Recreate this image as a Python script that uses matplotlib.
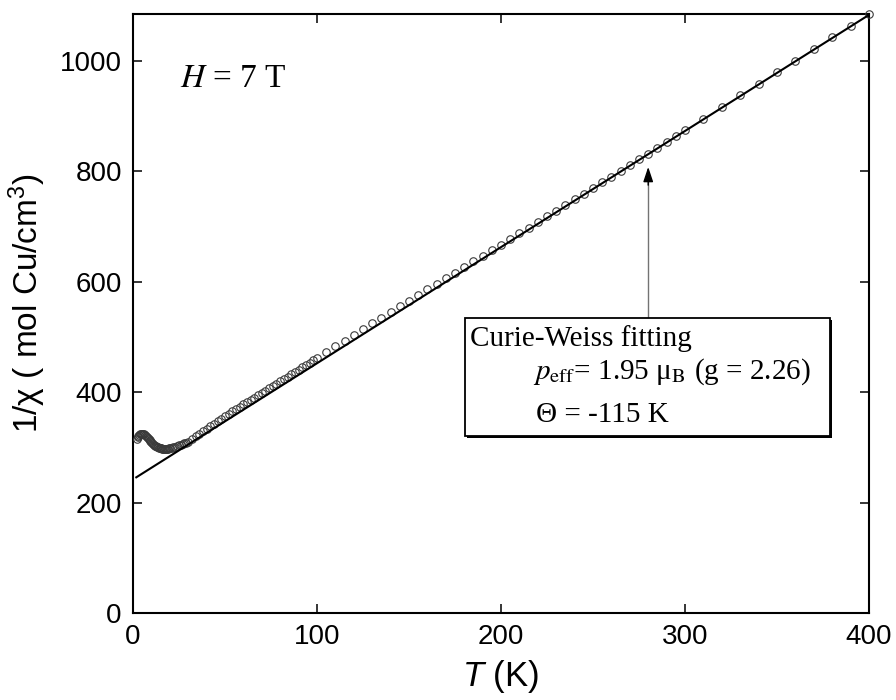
import numpy as np
import matplotlib
matplotlib.use('Agg')
import matplotlib.pyplot as plt
import matplotlib.patheffects as pe
from matplotlib.patches import Rectangle

# measured inverse susceptibility, H = 7 T
temp_low = [2.0, 2.5, 3.0, 3.5, 4.0, 4.5, 5.0, 5.5, 6.0, 6.5, 7.0, 7.5, 8.0, 8.5,
            9.0, 9.5, 10.0, 10.5, 11.0, 11.5, 12.0, 12.5, 13.0, 13.5, 14.0, 14.5,
            15.0, 15.5, 16.0, 16.5, 17.0, 17.5, 18.0, 18.5, 19.0, 19.5, 20.0,
            21, 22, 23, 24, 25, 26, 27, 28, 29]
inv_chi_low = [316.0, 319.0, 321.5, 323.2, 324.5, 325.0, 325.0, 324.5, 323.5, 322.2,
               320.5, 318.8, 317.0, 315.0, 313.0, 311.2, 309.5, 307.7, 306.0, 304.4,
               303.0, 301.9, 301.0, 300.2, 299.5, 299.0, 298.5, 298.1, 297.8, 297.6,
               297.4, 297.3, 297.4, 297.6, 297.8, 298.1, 298.4,
               299.2, 300.1, 301.1, 302.2, 303.4, 304.7, 306.0, 307.3, 308.6]

temp_mid = [30, 32, 34, 36, 38, 40, 42, 44, 46, 48, 50, 52, 54, 56, 58, 60, 62, 64,
            66, 68, 70, 72, 74, 76, 78, 80, 82, 84, 86, 88, 90, 92, 94, 96, 98, 100]
inv_chi_mid = [310.0, 315.0, 319.9, 324.7, 329.4, 334.0, 338.6, 343.2, 347.7, 352.1,
               356.5, 360.8, 365.1, 369.3, 373.5, 377.7, 381.9, 386.1, 390.3, 394.5,
               398.7, 402.9, 407.1, 411.3, 415.5, 419.8, 424.0, 428.2, 432.4, 436.6,
               440.8, 445.0, 449.2, 453.4, 457.6, 461.8]

temp_high = [105, 110, 115, 120, 125, 130, 135, 140, 145, 150, 155, 160, 165, 170,
             175, 180, 185, 190, 195, 200, 205, 210, 215, 220, 225, 230, 235, 240,
             245, 250, 255, 260, 265, 270, 275, 280, 285, 290, 295, 300,
             310, 320, 330, 340, 350, 360, 370, 380, 390, 400]
inv_chi_high = [472.5, 483.0, 493.5, 504.1, 514.4, 524.7, 535.1, 545.3, 555.5, 565.8,
                575.9, 586.1, 596.3, 606.4, 616.5, 626.8, 636.9, 647.0, 657.2, 667.4,
                677.6, 687.8, 698.0, 708.2, 718.4, 728.7, 738.9, 749.2, 759.6, 769.9,
                780.2, 790.6, 801.0, 811.4, 821.9, 832.3, 842.7, 853.3, 863.7, 874.2,
                895.2, 916.4, 937.5, 958.4, 979.6, 1000.7, 1021.6, 1042.8, 1063.9, 1084.9]

# Curie-Weiss parameters
p_eff = 1.95
theta = -115
fit_range = [1.8, 400]

plt.rcParams['font.family'] = ['Liberation Sans', 'DejaVu Sans']
plt.rcParams['mathtext.fontset'] = 'custom'
plt.rcParams['mathtext.rm'] = 'Liberation Sans'
plt.rcParams['mathtext.it'] = 'Liberation Sans:italic'
serif = ['Liberation Serif', 'DejaVu Serif']

fig = plt.figure(figsize=(8.96, 7.0), dpi=100)
ax = fig.add_axes([0.1484, 0.1243, 0.8215, 0.8557])

temps = np.array(temp_low + temp_mid + temp_high)
inv_chi = np.array(inv_chi_low + inv_chi_mid + inv_chi_high)
ax.plot(temps, inv_chi, 'o', ms=5.4, mfc='none', mec='#3a3a3a', mew=0.8,
        zorder=3, clip_on=False)

curie = p_eff ** 2 / 8
t_fit = np.array(fit_range)
ax.plot(t_fit, (t_fit - theta) / curie, color='black', lw=1.5, zorder=4)

ax.set_xlim(0, 400)
ax.set_ylim(0, 1085)
ax.set_xticks([0, 100, 200, 300, 400])
ax.set_yticks([0, 200, 400, 600, 800, 1000])
ax.tick_params(direction='in', length=6.5, width=1.1, labelsize=20, pad=8,
               top=True, right=True)
for spine in ax.spines.values():
    spine.set_linewidth(1.5)

ax.set_xlabel('$T$ (K)', fontsize=25, labelpad=6)
ax.set_ylabel('1/χ ( mol Cu/cm$^3$)', fontsize=24)
ax.yaxis.set_label_coords(-0.115, 0.517)

ax.text(0.064, 0.878, '$H$ = 7 T', transform=ax.transAxes, fontsize=24,
        family=serif, math_fontfamily='stix')

# fit annotation box
box = Rectangle((0.451, 0.2955), 0.496, 0.197, transform=ax.transAxes,
                fc='white', ec='black', lw=1.3, zorder=5,
                path_effects=[pe.SimplePatchShadow(offset=(1.5, -1.5), shadow_rgbFace='k', alpha=1),
                              pe.Normal()])
ax.add_patch(box)
ax.text(0.458, 0.4457, 'Curie-Weiss fitting', transform=ax.transAxes, fontsize=21,
        family=serif, zorder=6)
ax.text(0.543, 0.3907, r'$p_{\rm eff}$= %.2f μ$_{\rm B}$ (g = 2.26)' % p_eff,
        transform=ax.transAxes, fontsize=21, family=serif, math_fontfamily='stix', zorder=6)
ax.text(0.548, 0.3189, 'Θ = %d K' % theta, transform=ax.transAxes, fontsize=21,
        family=serif, zorder=6)

arrow_x = 280
box_top = 0.4925 * 1085
ax.plot([arrow_x, arrow_x], [box_top, 780], color='0.45', lw=1.0, zorder=4)
ax.annotate('', xy=(arrow_x, 808), xytext=(arrow_x, 775),
            arrowprops=dict(arrowstyle='-|>,head_length=0.9,head_width=0.3',
                            color='black', lw=1.0, shrinkA=0, shrinkB=0), zorder=4)

fig.savefig('out.png', dpi=100)
